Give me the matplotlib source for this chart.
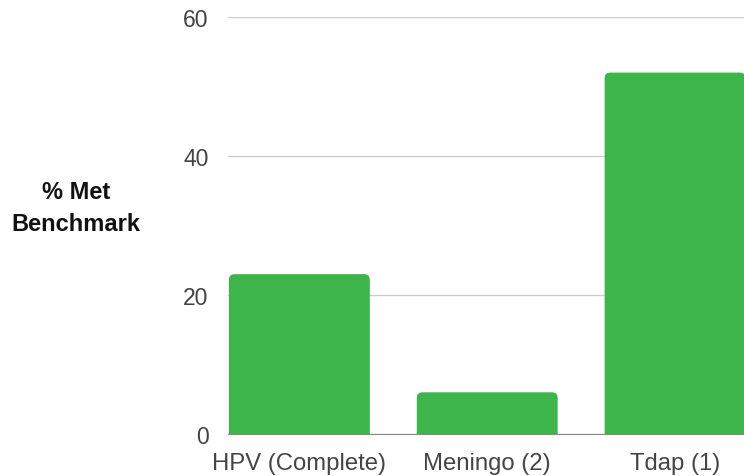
import matplotlib.pyplot as plt
from matplotlib.patches import FancyBboxPatch

plt.rcParams['font.family'] = ['Liberation Sans', 'DejaVu Sans']

categories = ["HPV (Complete)", "Meningo (2)", "Tdap (1)"]
pct_met = [23, 6, 52]
y_ticks = [0, 20, 40, 60]

bar_color = "#3db54a"
bar_width = 0.75

fig = plt.figure(figsize=(7.44, 4.77), dpi=100)
ax = fig.add_axes([228 / 744, 1 - 435 / 477, 1 - 228 / 744, (435 - 18) / 477])

ax.set_xlim(-0.38, 2.367)
ax.set_ylim(0, 60)

# rounded top corners: box extends below 0 and gets clipped by the axes
for i, v in enumerate(pct_met):
    p = FancyBboxPatch((i - bar_width / 2, -3), bar_width, v + 3,
                       boxstyle="round,pad=0,rounding_size=0.03",
                       mutation_aspect=27, facecolor=bar_color,
                       edgecolor="none", zorder=3)
    ax.add_patch(p)

ax.set_yticks(y_ticks)
ax.set_xticks(range(len(categories)))
ax.set_xticklabels(categories)
ax.tick_params(axis="both", length=0, labelcolor="#444444")
ax.tick_params(axis="y", pad=14, labelsize=16.5)
ax.tick_params(axis="x", pad=13, labelsize=17.2)

ax.yaxis.grid(True, color="#cccccc", linewidth=1)
ax.set_axisbelow(True)
for s in ["top", "right", "left"]:
    ax.spines[s].set_visible(False)
ax.spines["bottom"].set_color("#888888")
ax.spines["bottom"].set_zorder(4)

fig.text(76 / 744, 1 - 209 / 477, "% Met\nBenchmark", ha="center", va="center",
         fontsize=17, fontweight="bold", color="#111111", linespacing=1.5)

fig.savefig("out.png", dpi=100)
